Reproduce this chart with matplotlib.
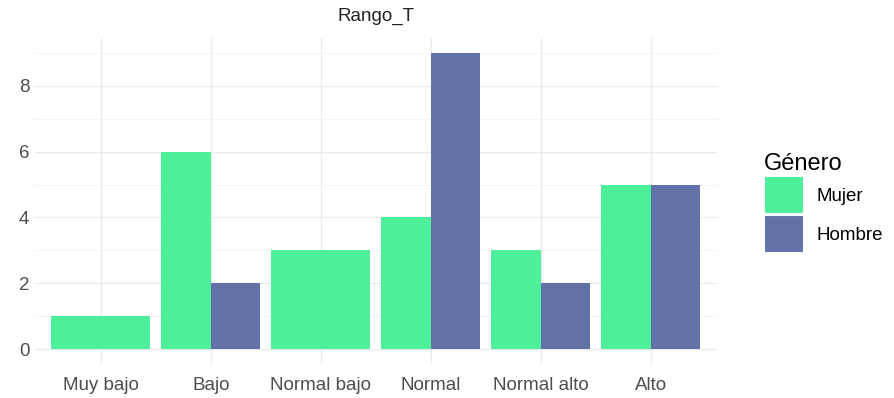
import matplotlib.pyplot as plt
import numpy as np
from matplotlib.patches import Patch

categorias = ["Muy bajo", "Bajo", "Normal bajo", "Normal", "Normal alto", "Alto"]
mujer = [1, 6, 3, 4, 3, 5]
hombre = [0, 2, 0, 9, 2, 5]

c_mujer = "#4DEF9A"
c_hombre = "#6271A8"

plt.rcParams["font.family"] = ["Liberation Sans", "DejaVu Sans"]

fig = plt.figure(figsize=(8.95, 3.98), dpi=100)
ax = fig.add_axes([0.039, 0.085, 0.762, 0.82])

x = np.arange(len(categorias))
w = 0.9
for i in range(len(categorias)):
    if hombre[i] == 0:
        ax.bar(x[i], mujer[i], width=w, color=c_mujer, zorder=3)
    elif mujer[i] == 0:
        ax.bar(x[i], hombre[i], width=w, color=c_hombre, zorder=3)
    else:
        ax.bar(x[i] - w / 4, mujer[i], width=w / 2, color=c_mujer, zorder=3)
        ax.bar(x[i] + w / 4, hombre[i], width=w / 2, color=c_hombre, zorder=3)

ax.set_xlim(-0.6, 5.6)
ax.set_ylim(-0.45, 9.45)
ax.set_yticks([0, 2, 4, 6, 8])
ax.set_yticks([1, 3, 5, 7, 9], minor=True)
ax.set_xticks(x)
ax.set_xticklabels(categorias)
ax.grid(which="major", color="#ebebeb", lw=1.0, zorder=0)
ax.grid(which="minor", axis="y", color="#f3f3f3", lw=0.6, zorder=0)
ax.tick_params(which="both", length=0, labelsize=13.5, colors="#4d4d4d")
ax.tick_params(axis="x", pad=9)
ax.tick_params(axis="y", pad=4)
for s in ax.spines.values():
    s.set_visible(False)
ax.set_title("Rango_T", fontsize=13.5, color="#222222", pad=12)

handles = [Patch(facecolor=c_mujer, edgecolor="white", lw=1.5, label="Mujer"),
           Patch(facecolor=c_hombre, edgecolor="white", lw=1.5, label="Hombre")]
leg = fig.legend(handles=handles, title="Género", loc="center left",
                 bbox_to_anchor=(0.835, 0.49), frameon=False, fontsize=13.5,
                 title_fontsize=17, handlelength=2.1, handleheight=2.7,
                 labelspacing=0.08, handletextpad=0.7)
leg._legend_box.align = "left"

fig.savefig("out.png", dpi=100)
